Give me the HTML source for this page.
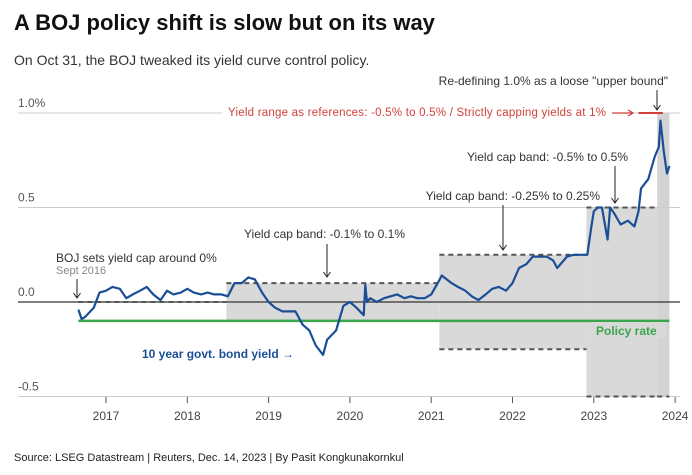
<!DOCTYPE html>
<html><head><meta charset="utf-8">
<style>
body{margin:0;background:#fff;width:692px;height:470px;overflow:hidden;font-family:"Liberation Sans",sans-serif}
svg text{font-family:"Liberation Sans",sans-serif}
</style></head>
<body>
<svg width="692" height="470">
<text x="14" y="30" font-size="22" font-weight="bold" fill="#111">A BOJ policy shift is slow but on its way</text>
<text x="14" y="65" font-size="14" fill="#333">On Oct 31, the BOJ tweaked its yield curve control policy.</text>
<g id="plot"></g>
<text x="14" y="461" font-size="11" fill="#222">Source: LSEG Datastream | Reuters, Dec. 14, 2023 | By Pasit Kongkunakornkul</text>
</svg>
<script>
const yTicks=[1.0,0.5,0.0,-0.5];
const yTickLabels=["1.0%","0.5","0.0","-0.5"];
const xYears=[2017,2018,2019,2020,2021,2022,2023,2024];
const dates=[2016.66,2016.70,2016.74,2016.85,2016.92,2017.0,2017.08,2017.17,2017.25,2017.33,2017.42,2017.5,2017.58,2017.67,2017.75,2017.83,2017.92,2018.0,2018.08,2018.17,2018.25,2018.33,2018.42,2018.5,2018.58,2018.67,2018.75,2018.83,2018.92,2019.0,2019.08,2019.17,2019.25,2019.33,2019.42,2019.5,2019.58,2019.67,2019.72,2019.83,2019.92,2020.0,2020.08,2020.17,2020.19,2020.21,2020.25,2020.33,2020.42,2020.5,2020.58,2020.67,2020.75,2020.83,2020.92,2021.0,2021.08,2021.13,2021.25,2021.33,2021.42,2021.5,2021.58,2021.67,2021.75,2021.83,2021.92,2022.0,2022.08,2022.17,2022.25,2022.33,2022.42,2022.5,2022.55,2022.67,2022.75,2022.83,2022.92,2022.97,2023.0,2023.05,2023.1,2023.17,2023.2,2023.25,2023.33,2023.42,2023.5,2023.55,2023.58,2023.67,2023.75,2023.8,2023.82,2023.86,2023.9,2023.93];
const yields=[-0.04,-0.09,-0.08,-0.03,0.05,0.06,0.08,0.07,0.02,0.04,0.06,0.08,0.04,0.01,0.06,0.04,0.05,0.07,0.05,0.04,0.05,0.04,0.04,0.03,0.10,0.10,0.13,0.12,0.05,0.0,-0.03,-0.05,-0.05,-0.05,-0.12,-0.15,-0.23,-0.28,-0.20,-0.15,-0.02,0.0,-0.03,-0.07,0.09,0.0,0.02,0.0,0.02,0.03,0.04,0.02,0.03,0.02,0.02,0.04,0.10,0.14,0.10,0.08,0.06,0.03,0.01,0.04,0.07,0.08,0.06,0.10,0.18,0.20,0.24,0.24,0.24,0.22,0.18,0.24,0.25,0.25,0.25,0.40,0.48,0.50,0.50,0.33,0.50,0.47,0.41,0.43,0.40,0.48,0.60,0.65,0.77,0.82,0.96,0.80,0.68,0.72];
const bands=[[2018.48,2021.1,0.1],[2021.1,2022.91,0.25],[2022.91,2023.78,0.5]];
const policyRate=-0.1;
const NS="http://www.w3.org/2000/svg";
const X=t=>106+81.3*(t-2017);
const Y=v=>302-189*v;
const g=document.getElementById('plot');
function mk(tag,a,txt){const e=document.createElementNS(NS,tag);for(const k in a)e.setAttribute(k,a[k]);if(txt!==undefined)e.textContent=txt;g.appendChild(e);return e;}
bands.forEach(b=>{
 const r=mk('rect',{x:X(b[0]),y:Y(b[2]),width:X(b[1])-X(b[0]),height:Y(-b[2])-Y(b[2]),fill:'#d9d9d9'});
 
 
});
const r2=mk('rect',{x:X(2023.78),y:Y(1.0),width:X(2023.93)-X(2023.78),height:Y(-0.5)-Y(1.0),fill:'#d3d3d3'});


yTicks.forEach((v,i)=>{
 const l=mk('line',{x1:18,x2:680,y1:Y(v),y2:Y(v),stroke:v===0?'#333':'#ccc','stroke-width':v===0?1.3:1});
 
 
 const t=mk('text',{x:18,y:Y(v)-6,'font-size':12,fill:'#555'},yTickLabels[i]);
 
 
});
const dash={stroke:'#555','stroke-width':2,'stroke-dasharray':'5,4'};
function dl(x1,x2,v){const l=mk('line',Object.assign({x1:X(x1),x2:X(x2),y1:Y(v),y2:Y(v)},dash));}
dl(2016.66,2018.48,0);
bands.forEach(b=>{dl(b[0],b[1],b[2]);dl(b[0],b[1],-b[2]);});
dl(2023.78,2023.93,-0.5);
const pr=mk('line',{x1:X(2016.66),x2:X(2023.93),y1:Y(policyRate),y2:Y(policyRate),stroke:'#3aa64c','stroke-width':2.5});


const rl=mk('line',{x1:X(2023.55),x2:X(2023.85),y1:Y(1),y2:Y(1),stroke:'#d0413b','stroke-width':2});


xYears.forEach(yr=>{
 const t=mk('line',{x1:X(yr),x2:X(yr),y1:397,y2:403,stroke:'#555'});
 
 
 const l=mk('text',{x:X(yr),y:420,'font-size':12,fill:'#444','text-anchor':'middle'},String(yr));
 
 
});
const line=mk('path',{d:dates.map((d,i)=>(i?'L':'M')+X(d).toFixed(1)+','+Y(yields[i]).toFixed(1)).join(''),fill:'none',stroke:'#1a4e96','stroke-width':2.2,'stroke-linejoin':'round'});


function txt(x,y,s,o,name){const t=mk('text',Object.assign({x:x,y:y,'font-size':12,fill:'#333'},o||{}),s);return t;}
function arrow(x,y1,y2,name){const a=mk('path',{d:`M${x},${y1}V${y2}M${x-3.5},${y2-5}L${x},${y2}L${x+3.5},${y2-5}`,stroke:'#222',fill:'none','stroke-width':1});}
txt(668,85,'Re-defining 1.0% as a loose "upper bound"',{'text-anchor':'end'},'upper-bound-annotation');
arrow(657,90,110,'upper-bound-arrow');
mk('rect',{x:222,y:105,width:392,height:14,fill:'#fff'});
txt(228,116,'Yield range as references: -0.5% to 0.5% / Strictly capping yields at 1%',{fill:'#d0413b','font-size':11.5,textLength:378},'yield-range-annotation');
const ra=mk('path',{d:'M612,113H633M628,110L633,113L628,116',stroke:'#d0413b',fill:'none','stroke-width':1.3});
txt(628,161,'Yield cap band: -0.5% to 0.5%',{'text-anchor':'end'},'band-05-annotation');
arrow(615,166,203,'band-05-arrow');
txt(600,200,'Yield cap band: -0.25% to 0.25%',{'text-anchor':'end'},'band-025-annotation');
arrow(503,205,250,'band-025-arrow');
txt(244,238,'Yield cap band: -0.1% to 0.1%',{},'band-01-annotation');
arrow(327,244,277,'band-01-arrow');
txt(56,262,'BOJ sets yield cap around 0%',{},'boj-annotation');
txt(56,274,'Sept 2016',{fill:'#888','font-size':11},'sept-2016-label');
arrow(77,279,298,'boj-arrow');
txt(142,358,'10 year govt. bond yield →',{fill:'#1a4e96','font-weight':'bold'},'series-label');
mk('rect',{x:592,y:322,width:74,height:16,fill:'#d9d9d9'});
txt(596,335,'Policy rate',{fill:'#3aa64c','font-weight':'bold'},'policy-rate-label');
</script>
</body></html>
